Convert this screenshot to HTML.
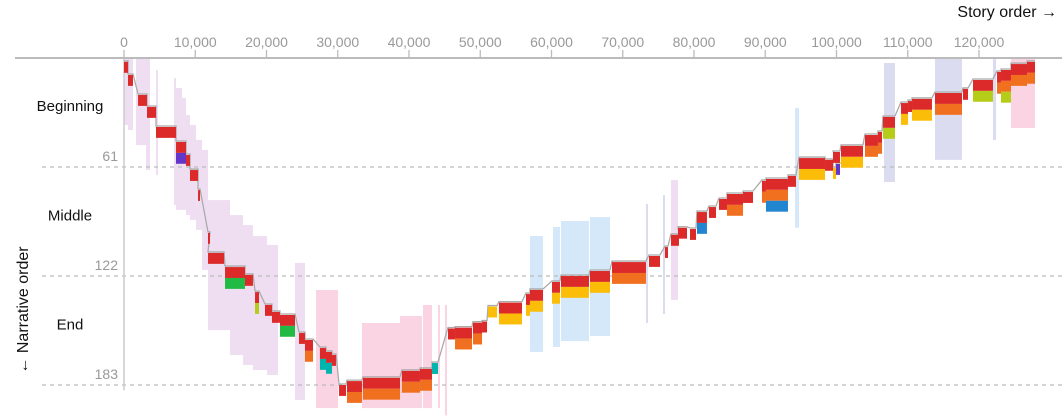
<!DOCTYPE html>
<html><head><meta charset="utf-8">
<style>
html,body{margin:0;padding:0;background:#fff;}
svg{display:block;font-family:"Liberation Sans",sans-serif;}
</style></head>
<body>
<svg id="chart" width="1062" height="417" viewBox="0 0 1062 417" xmlns="http://www.w3.org/2000/svg">
<g id="bands"></g>
<g id="grid"></g>
<g id="steps"></g>
<g id="segs"></g>
<g id="axes"></g>
</svg>
<script>
// story order (thousands of words) ticks
const xTicks = [0,10,20,30,40,50,60,70,80,90,100,110,120];
const yTicks = [61,122,183];
const sectionLabels = ["Beginning","Middle","End"];
const sectionRows = [27,88,149];
// segments
const segStart = [0,0.56,1.97,3.23,4.49,7.30,8.70,9.26,10.39,11.79,11.79,14.18,16.98,18.39,19.79,20.77,21.89,24.56,25.4,27.5,28.35,29.19,30.18,31.3,33.54,39.0,41.54,43.23,45.47,46.46,48.98,50.25,51.09,52.63,56.42,56.98,60.07,61.33,65.4,68.49,73.68,75.93,76.77,77.75,79.44,80.42,82.1,83.51,84.63,86.88,89.54,90.1,93.19,94.74,98.39,99.51,99.93,99.51,100.63,104.0,105.82,106.53,109.05,110.04,110.6,113.82,117.75,119.16,122.53,123.09,124.49,126.74];
const segEnd = [0.56,1.26,3.23,4.49,7.30,8.70,9.26,10.39,10.67,12.07,14.04,16.98,18.1,18.95,20.77,21.89,24.0,25.4,26.53,28.35,29.19,29.75,31.16,33.4,38.74,41.54,43.23,44.07,46.46,48.84,50.25,50.95,52.35,55.86,56.98,58.81,61.19,65.26,68.21,73.26,75.23,76.35,77.89,79.02,80.28,81.82,83.09,84.63,86.88,88.28,90.1,93.19,94.32,98.39,99.51,99.93,100.49,100.49,103.72,105.82,106.39,108.21,110.04,110.6,113.4,117.61,118.46,121.96,123.09,124.49,126.74,127.86];
const segRow = [2.2,9.5,20.7,27.4,38.6,47,54.3,62.7,73.9,97.9,109.1,117,121.4,131,138.2,142.1,143.8,153.9,157.8,162.3,164.5,166.2,183,180.8,179,175.1,174,170.7,151.4,150.9,148.1,147.5,139.1,136.9,132.1,129.8,125.3,122,119.2,114.2,110.8,105.8,99,95,95.7,86.2,83.4,78.9,76.1,75,68.8,67.7,66,56,57,61.6,59.3,52.6,49.2,43.1,41.4,33,25.2,24.1,22.9,19.6,17.3,12.3,7.8,6.7,3.4,2.2];
const segChars = ["r","r","r","r","r","rp","r","r","r","r","r","rg","r","rl","r","r","rg","r","ro","rt","rt","r","r","ro","ro","ro","ro","t","r","ro","ro","r","y","ry","ry","ry","ry","ry","ry","ro","r","r","r","r","r","rb","r","r","ro","r","ro","rob","r","ry","r","y","p","r","ry","ro","ro","rl","ry","r","ry","ro","r","rl","ro","rol","ro","ro"];
// background scene bands
const bandStart = [0,0.56,1.68,3.09,4.49,7.02,7.30,8.14,8.7,9.26,10.11,10.95,11.79,14.88,16.7,18.1,20.07,24.0,76.77,26.95,33.4,38.74,41.96,44.07,45.05,124.49,56.98,60.21,61.33,65.4,94.18,73.26,75.65,106.67,113.82,121.96];
const bandEnd = [0.56,1.26,3.09,3.65,4.77,7.30,8.14,8.70,9.26,10.11,10.95,11.79,14.88,16.7,18.1,20.07,21.61,25.4,77.75,30.04,38.74,41.82,43.23,44.35,45.33,127.86,58.81,61.19,65.26,68.21,94.74,73.54,75.93,108.21,117.61,122.39];
const bandRow0 = [0,0,0,0,6.7,11.2,16.8,22.4,31.9,37.5,45.8,51.4,79.5,87.9,93.5,99.6,104.6,114.7,68.3,129.8,148.3,144.4,138.2,138.2,138.2,0,99.6,94.6,91.2,89,28,81.7,76.7,2.8,0,0];
const bandRow1 = [37.5,40.3,48.7,62.7,65.5,82.3,85,85,87.8,90.6,96.2,118.6,152.3,166.2,171.8,174.6,177.4,191.4,135.4,195.9,195.9,195.9,195.9,195.9,200,39.2,164.5,161.7,158.4,155.6,95,148.3,143.3,69.4,57,45.9];
const bandKind = ["L","L","L","L","L","L","L","L","L","L","L","L","L","L","L","L","L","L","L","P","P","P","P","P","P","P","B","B","B","B","B","V","V","V","V","V"];

const colors = {r:"#dc2a2a",o:"#f07020",y:"#fbbd08",g:"#21ba45",l:"#b5cc18",t:"#00b5ad",b:"#2185d0",p:"#6435c9"};
const bandColors = {L:"#efdef2",P:"#fad4e2",B:"#d4e8f9",V:"#dcdcf0"};
const X = v => 124 + v * 7.125;
const Y = r => 58 + r * 1.787;
const LAYER = 6.1;
const NS = "http://www.w3.org/2000/svg";
function mk(tag, attrs, parent){const e=document.createElementNS(NS,tag);for(const k in attrs)e.setAttribute(k,attrs[k]);parent.appendChild(e);return e;}

const gB = document.getElementById('bands');
for(let i=0;i<bandStart.length;i++){
  const e = mk('rect',{x:X(bandStart[i]),y:Y(bandRow0[i]),width:Math.max(1,X(bandEnd[i])-X(bandStart[i])),height:Y(bandRow1[i])-Y(bandRow0[i]),fill:bandColors[bandKind[i]]},gB);
  
  
}
const gG = document.getElementById('grid');
yTicks.forEach(t=>{
  const l = mk('line',{x1:42,x2:1062,y1:Y(t),y2:Y(t),stroke:"#bbb","stroke-width":1.3,"stroke-dasharray":"4,4"},gG);
  
  
});
const vl = mk('line',{x1:124,x2:124,y1:58,y2:Y(186),stroke:"#ccc","stroke-width":1.5},gG);



// step line
let d = "";
for(let i=0;i<segStart.length;i++){
  d += (i===0?"M":"L") + X(segStart[i]) + " " + (Y(segRow[i])-1) + " L" + X(segEnd[i]) + " " + (Y(segRow[i])-1) + " ";
}
const sp = mk('path',{d:d,fill:"none",stroke:"#aaa","stroke-width":1.3},document.getElementById('steps'));



const gS = document.getElementById('segs');
for(let i=0;i<segStart.length;i++){
  const chars = segChars[i];
  for(let j=0;j<chars.length;j++){
    const e = mk('rect',{x:X(segStart[i]),y:Y(segRow[i]+j*LAYER),width:Math.max(1.5,X(segEnd[i])-X(segStart[i])),height:LAYER*1.787,fill:colors[chars[j]]},gS);
    
    
  }
}

const gA = document.getElementById('axes');
const al = mk('line',{x1:15,x2:1062,y1:58,y2:58,stroke:"#bbb","stroke-width":2},gA);


xTicks.forEach(t=>{
  const tk = mk('line',{x1:X(t),x2:X(t),y1:50,y2:58,stroke:"#bbb","stroke-width":1.3},gA);
  
  
  const tx = mk('text',{x:X(t),y:47,"text-anchor":"middle","font-size":14,fill:"#999"},gA);
  tx.textContent = (t*1000).toLocaleString('en-US');
  
  
});
yTicks.forEach(t=>{
  const tx = mk('text',{x:118,y:Y(t)-6,"text-anchor":"end","font-size":14,fill:"#999"},gA);
  tx.textContent = t;
  
  
});
sectionLabels.forEach((s,i)=>{
  const tx = mk('text',{x:i===0?70:70,y:Y(sectionRows[i])+5,"text-anchor":"middle","font-size":15,fill:"#111"},gA);
  tx.textContent = s;
  
  
});
const xt = mk('text',{x:1057,y:17,"text-anchor":"end","font-size":16,fill:"#111"},gA);
xt.textContent = "Story order →";


const yt = mk('text',{x:0,y:0,"text-anchor":"middle","font-size":16,fill:"#111",transform:"translate(28,310) rotate(-90)"},gA);
yt.textContent = "← Narrative order";


</script>
</body></html>
